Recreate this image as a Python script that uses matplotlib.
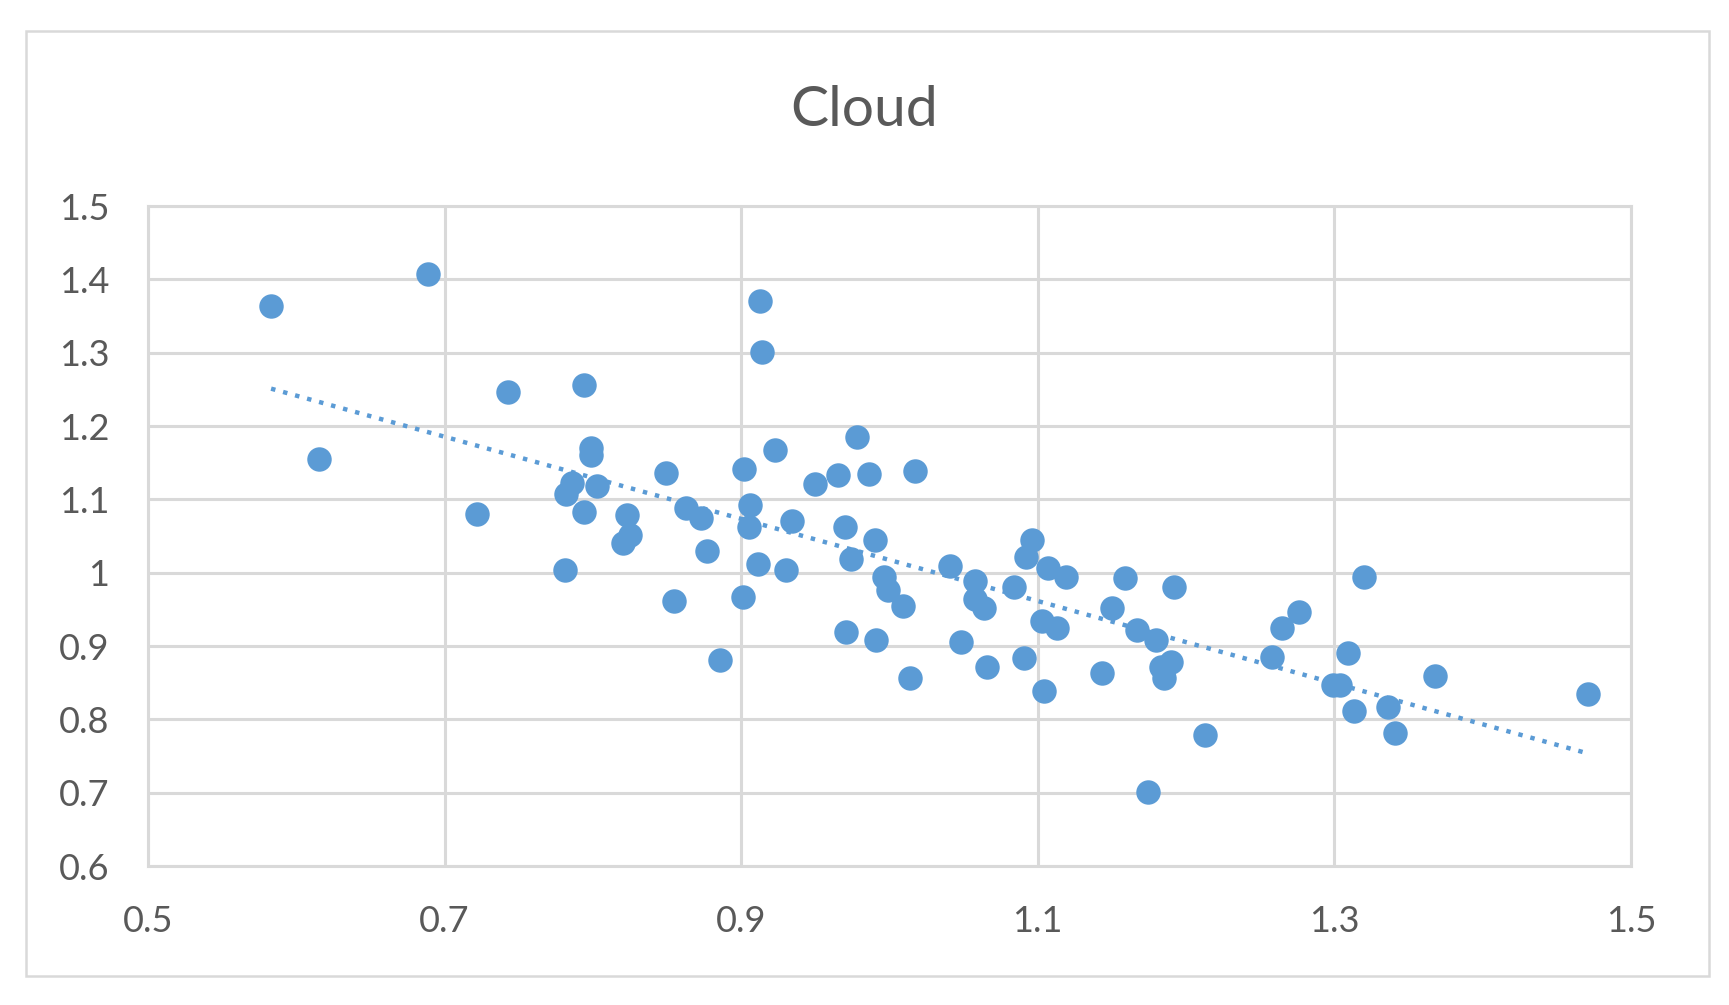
import numpy as np
import matplotlib
matplotlib.use("Agg")
import matplotlib.pyplot as plt
from matplotlib.patches import Rectangle
from matplotlib.ticker import FuncFormatter

# valores
x_vals = [0.583, 0.689, 0.615, 0.722, 0.743, 0.794, 0.799, 0.799, 0.786, 0.782,
          0.794, 0.803, 0.781, 0.823, 0.825, 0.820, 0.849, 0.855, 0.863, 0.873,
          0.877, 0.886, 0.902, 0.906, 0.905, 0.901, 0.913, 0.914, 0.923, 0.911,
          0.930, 0.934, 0.950, 0.965, 0.978, 0.986, 1.017, 0.970, 0.974, 0.990,
          0.971, 0.991, 0.996, 0.999, 1.009, 1.014, 1.041, 1.048, 1.058, 1.058,
          1.064, 1.066, 1.084, 1.091, 1.092, 1.096, 1.103, 1.104, 1.107, 1.113,
          1.119, 1.143, 1.150, 1.159, 1.167, 1.174, 1.180, 1.183, 1.185, 1.190,
          1.192, 1.213, 1.258, 1.265, 1.276, 1.299, 1.304, 1.309, 1.313, 1.320,
          1.336, 1.341, 1.368, 1.471]
y_vals = [1.363, 1.407, 1.155, 1.080, 1.246, 1.256, 1.170, 1.161, 1.122, 1.107,
          1.083, 1.118, 1.003, 1.079, 1.051, 1.041, 1.136, 0.961, 1.088, 1.074,
          1.029, 0.881, 1.142, 1.092, 1.062, 0.967, 1.371, 1.301, 1.167, 1.012,
          1.003, 1.071, 1.121, 1.133, 1.185, 1.134, 1.139, 1.062, 1.018, 1.044,
          0.919, 0.908, 0.994, 0.976, 0.955, 0.857, 1.009, 0.905, 0.988, 0.964,
          0.952, 0.872, 0.981, 0.884, 1.021, 1.044, 0.934, 0.838, 1.006, 0.924,
          0.994, 0.863, 0.952, 0.993, 0.922, 0.701, 0.908, 0.872, 0.856, 0.878,
          0.981, 0.778, 0.885, 0.924, 0.946, 0.847, 0.847, 0.890, 0.811, 0.994,
          0.817, 0.782, 0.859, 0.835]
titulo = "Cloud"
x_ticks = [0.5, 0.7, 0.9, 1.1, 1.3, 1.5]
y_ticks = [0.6, 0.7, 0.8, 0.9, 1.0, 1.1, 1.2, 1.3, 1.4, 1.5]

azul = "#5B9BD5"
gris = "#D9D9D9"
texto = "#595959"

plt.rcParams['font.family'] = ['Lato', 'DejaVu Sans']

fig = plt.figure(figsize=(17.29, 10.05), dpi=100)
ax = fig.add_axes([0.0856, 0.1383, 0.8577, 0.6567])

# borde exterior del grafico
fig.patches.append(Rectangle((0.015, 0.029), 0.9734, 0.94, transform=fig.transFigure,
                             fill=False, edgecolor=gris, linewidth=1.8))

ax.scatter(x_vals, y_vals, s=310, color=azul, zorder=3, linewidths=0)

# linea de tendencia lineal
m, b = np.polyfit(x_vals, y_vals, 1)
xt = np.array([min(x_vals), max(x_vals)])
ax.plot(xt, m * xt + b, color=azul, linestyle=(0, (1, 1.8)), linewidth=3.2, zorder=2)

ax.set_xlim(0.5, 1.5)
ax.set_ylim(0.6, 1.5)
ax.set_xticks(x_ticks)
ax.set_yticks(y_ticks)
fmt = FuncFormatter(lambda v, p: f"{v:g}")
ax.xaxis.set_major_formatter(fmt)
ax.yaxis.set_major_formatter(fmt)
ax.grid(True, color=gris, linewidth=2.2, zorder=0)
ax.set_axisbelow(True)
for s in ax.spines.values():
    s.set_color(gris)
    s.set_linewidth(2.2)
ax.tick_params(length=0, labelsize=26, labelcolor=texto, pad=28)

fig.text(0.5, 1 - 110 / 1005, titulo, ha='center', va='center', fontsize=41, color=texto)

fig.savefig("out.png", dpi=100)
